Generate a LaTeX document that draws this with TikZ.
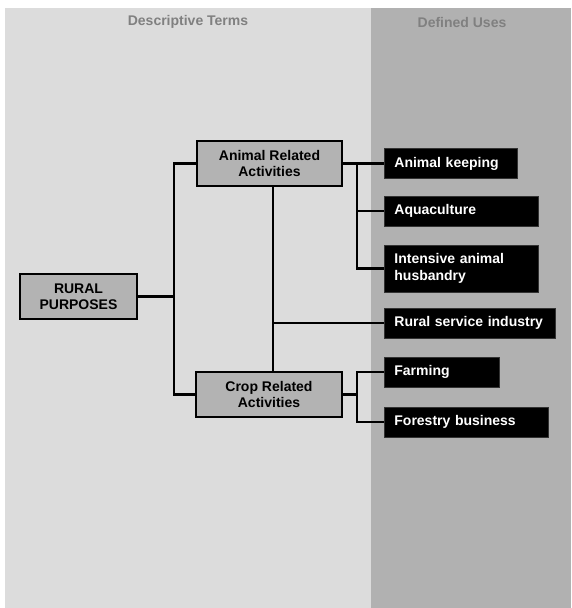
\documentclass[tikz,border=0pt]{standalone}
\usepackage{fontspec}
\setmainfont{Liberation Sans}
\usetikzlibrary{positioning, calc}

\definecolor{paneLight}{HTML}{DCDCDC}
\definecolor{paneDark}{HTML}{B1B1B1}
\definecolor{headGray}{HTML}{808080}
\definecolor{termGray}{HTML}{B3B3B3}

\begin{document}
\begin{tikzpicture}[x=1pt, y=-1pt,
    term/.style={rectangle, draw=black, line width=1.6pt, fill=termGray, minimum height=45pt, align=center, font=\fontsize{14}{15.5}\selectfont\bfseries, inner sep=2pt},
    use/.style={rectangle, draw=black!80, line width=0.8pt, fill=black, text=white, anchor=west, minimum height=30pt, align=left, inner xsep=10pt, font=\fontsize{14}{16.5}\selectfont\bfseries},
    head/.style={text=headGray, font=\fontsize{14}{16}\selectfont\bfseries},
    link/.style={line width=2.4pt, black}]

    \useasboundingbox (0,0) rectangle (571,608);
    % background panels
    \fill[paneLight] (5,8) rectangle (371,608);
    \fill[paneDark] (371,8) rectangle (571,608);
    \node[head] (hterms) at (188,22) {Descriptive Terms};
    \node[head] (huses) at (462,22) {Defined Uses};

    % descriptive terms
    \node[term, minimum width=117pt] (rural) at (78.5,296.5) {RURAL\\PURPOSES};
    \node[term, minimum width=145pt] (animal) at (269.5,163.5) {Animal Related\\Activities};
    \node[term, minimum width=146pt] (crop) at (269,394.5) {Crop Related\\Activities};

    % defined uses
    \node[use, text width=113pt] (keeping) at (384,163.5) {Animal keeping};
    \node[use, text width=134pt] (aqua) at (384,211) {Aquaculture};
    \node[use, text width=134pt, minimum height=47pt] (intensive) at (384,268.5) {Intensive animal\\husbandry};
    \node[use, text width=151pt] (service) at (384,323) {Rural service industry};
    \node[use, text width=95pt] (farming) at (384,372) {Farming};
    \node[use, text width=144pt] (forestry) at (384,422) {Forestry business};

    \coordinate (jl) at (174,296.5);
    \coordinate (jm) at (273,163.5);
    \coordinate (ja) at (357,163.5);
    \coordinate (jc) at (357,394.5);

    \draw[link] (rural) -- (jl);
    \draw[link] (animal.west) -| (jl) |- (crop.west);
    \draw[link] (jm |- animal.south) -- (jm |- crop.north);
    \draw[link] (service.west) -- (service.west -| jm);
    \draw[link] (animal.east) -- (keeping.west);
    \draw[link] (ja) |- (intensive.west);
    \draw[link] (ja |- aqua.west) -- (aqua.west);
    \draw[link] (crop.east) -- (jc);
    \draw[link] (farming.west) -| (jc) |- (forestry.west);
\end{tikzpicture}
\end{document}
